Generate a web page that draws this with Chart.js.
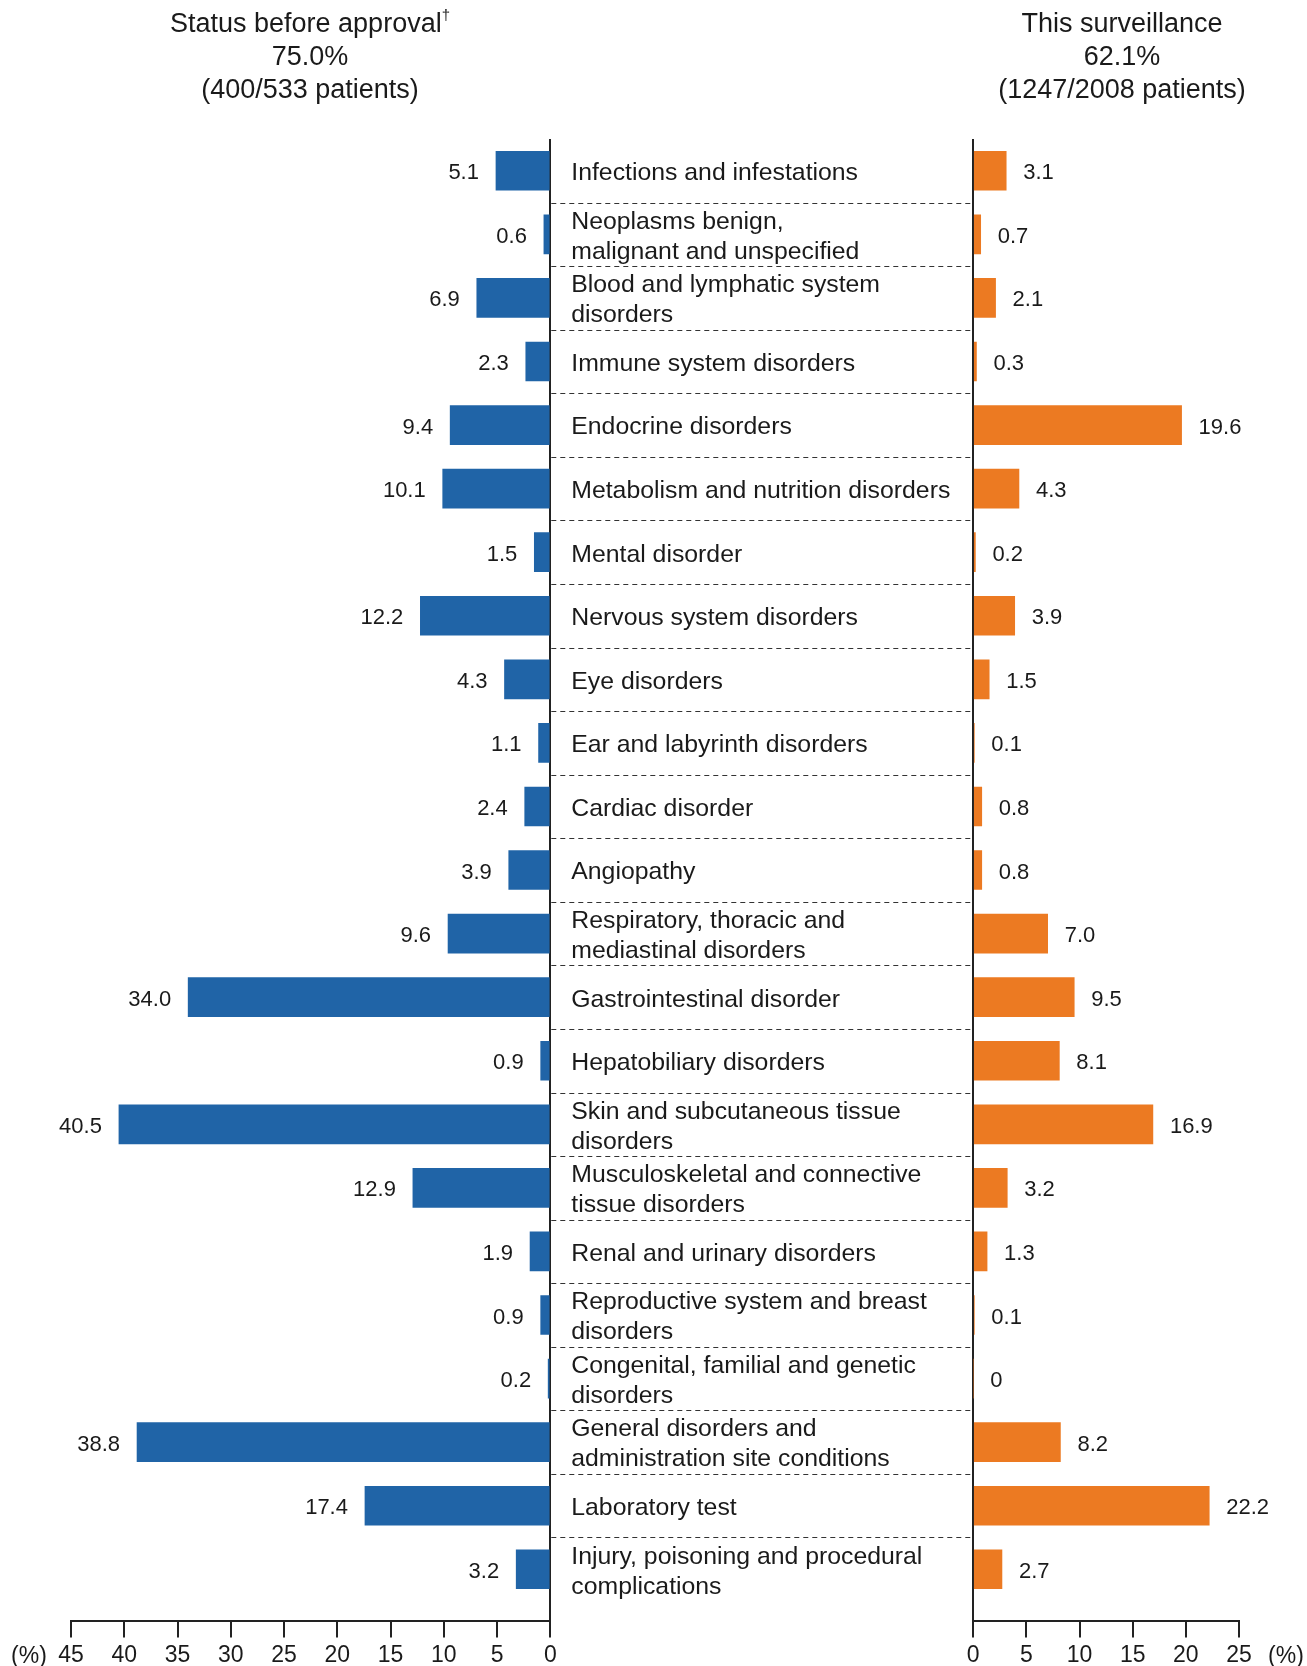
<!DOCTYPE html>
<html>
<head>
<meta charset="utf-8">
<script src="https://cdn.jsdelivr.net/npm/chart.js@4.4.1/dist/chart.umd.min.js"></script>
<style>
  body { margin: 0; background: #fff; }
  #wrap { position: relative; width: 1307px; height: 1666px; overflow: hidden; }
  .head {
    position: absolute; top: 7px; width: 400px; text-align: center;
    font-family: "Liberation Sans", Arial, sans-serif; font-size: 27px;
    line-height: 33px; color: #1a1a1a;
  }
  .head sup { font-size: 15px; line-height: 0; vertical-align: 12px; }
</style>
</head>
<body>
<div id="wrap">
  <div class="head" style="left:110px">Status before approval<sup>†</sup><br>75.0%<br>(400/533 patients)</div>
  <div class="head" style="left:922px">This surveillance<br>62.1%<br>(1247/2008 patients)</div>
  <canvas id="aeChart" width="1307" height="1674"></canvas>
</div>
<script>
// System organ classes, top to bottom
const categories = [
  "Infections and infestations",
  ["Neoplasms benign,", "malignant and unspecified"],
  ["Blood and lymphatic system", "disorders"],
  "Immune system disorders",
  "Endocrine disorders",
  "Metabolism and nutrition disorders",
  "Mental disorder",
  "Nervous system disorders",
  "Eye disorders",
  "Ear and labyrinth disorders",
  "Cardiac disorder",
  "Angiopathy",
  ["Respiratory, thoracic and", "mediastinal disorders"],
  "Gastrointestinal disorder",
  "Hepatobiliary disorders",
  ["Skin and subcutaneous tissue", "disorders"],
  ["Musculoskeletal and connective", "tissue disorders"],
  "Renal and urinary disorders",
  ["Reproductive system and breast", "disorders"],
  ["Congenital, familial and genetic", "disorders"],
  ["General disorders and", "administration site conditions"],
  "Laboratory test",
  ["Injury, poisoning and procedural", "complications"],
];
// % of patients, status before approval
const beforeApproval = [5.1, 0.6, 6.9, 2.3, 9.4, 10.1, 1.5, 12.2, 4.3, 1.1, 2.4, 3.9,
  9.6, 34.0, 0.9, 40.5, 12.9, 1.9, 0.9, 0.2, 38.8, 17.4, 3.2];
// % of patients, this surveillance
const surveillance = [3.1, 0.7, 2.1, 0.3, 19.6, 4.3, 0.2, 3.9, 1.5, 0.1, 0.8, 0.8,
  7.0, 9.5, 8.1, 16.9, 3.2, 1.3, 0.1, 0, 8.2, 22.2, 2.7];
const leftMax = 45;
const rightMax = 25;
const tickStep = 5;

const FONT = '"Liberation Sans", Arial, sans-serif';
const INK = "#1a1a1a";
const BLUE = "#2064a7";
const ORANGE = "#ec7a22";
const TICK_PAD = 4.5;
const TEXT_DY = 2.5; // canvas "middle" sits a bit high for this font

function fmt(v) {
  return v === 0 ? "0" : v.toFixed(1);
}

// category labels, separators and value labels
const labelPlugin = {
  id: "labels",
  afterDatasetsDraw(chart) {
    const { ctx } = chart;
    const xL = chart.scales.xL;
    const xM = chart.scales.xM;
    const xR = chart.scales.xR;
    const y = chart.scales.y;
    ctx.save();

    // dashed separators between rows
    ctx.strokeStyle = "#333";
    ctx.lineWidth = 1.2;
    ctx.setLineDash([5, 4]);
    for (let i = 0; i < categories.length - 1; i++) {
      const py = Math.round(y.getPixelForValue(i + 0.5)) + 0.5;
      ctx.beginPath();
      ctx.moveTo(xM.left + 1, py);
      ctx.lineTo(xM.right - 1, py);
      ctx.stroke();
    }
    ctx.setLineDash([]);

    ctx.fillStyle = INK;
    ctx.textBaseline = "middle";
    ctx.font = "24.8px " + FONT;
    ctx.textAlign = "left";
    categories.forEach((c, i) => {
      const lines = Array.isArray(c) ? c : [c];
      const cy = y.getPixelForValue(i) + TEXT_DY;
      lines.forEach((t, j) => {
        ctx.fillText(t, xM.left + 21, cy + (j - (lines.length - 1) / 2) * 30);
      });
    });

    ctx.font = "22px " + FONT;
    beforeApproval.forEach((v, i) => {
      ctx.textAlign = "right";
      ctx.fillText(fmt(v), xL.getPixelForValue(v) - 17, y.getPixelForValue(i) + TEXT_DY);
    });
    surveillance.forEach((v, i) => {
      ctx.textAlign = "left";
      ctx.fillText(fmt(v), xR.getPixelForValue(v) + 17, y.getPixelForValue(i) + TEXT_DY);
    });

    // unit labels beside the axes
    ctx.font = "23px " + FONT;
    ctx.textBaseline = "top";
    ctx.textAlign = "center";
    const ty = xL.top + 16 + TICK_PAD + 3;
    ctx.fillText("(%)", 29, ty);
    ctx.fillText("(%)", 1286, ty);
    ctx.restore();
  },
};

function axisOpts(max, reverse, weight, stackWeight) {
  return {
    type: "linear",
    position: "bottom",
    stack: "x",
    stackWeight: stackWeight,
    weight: weight,
    min: 0,
    max: max,
    reverse: reverse,
    offset: false,
    grid: {
      color: (c) => (c.tick && c.tick.value === 0 ? "#222" : "rgba(0,0,0,0)"),
      lineWidth: 2,
      tickColor: "#222",
      tickLength: 16,
      tickWidth: 2,
    },
    border: { display: true, color: "#222", width: 2 },
    ticks: {
      stepSize: tickStep,
      autoSkip: false,
      color: INK,
      padding: TICK_PAD,
      maxRotation: 0,
      font: { family: FONT, size: 23 },
    },
  };
}

const ctx = document.getElementById("aeChart").getContext("2d");
new Chart(ctx, {
  type: "bar",
  data: {
    datasets: [
      {
        label: "Status before approval",
        data: beforeApproval.map((v, i) => ({ x: v, y: i })),
        xAxisID: "xL",
        backgroundColor: BLUE,
      },
      {
        label: "This surveillance",
        data: surveillance.map((v, i) => ({ x: v, y: i })),
        xAxisID: "xR",
        backgroundColor: ORANGE,
      },
    ],
  },
  options: {
    indexAxis: "y",
    responsive: false,
    animation: false,
    layout: { padding: { left: 71, right: 68, top: 139, bottom: 0 } },
    datasets: {
      bar: {
        grouped: false,
        barThickness: 39,
        borderWidth: 0,
      },
    },
    plugins: {
      legend: { display: false },
      tooltip: { enabled: false },
    },
    scales: {
      xL: axisOpts(leftMax, true, 1, 479.2),
      xM: {
        type: "linear",
        position: "bottom",
        stack: "x",
        stackWeight: 422.9,
        weight: 2,
        min: 0,
        max: 1,
        grid: { display: false, drawTicks: false },
        border: { display: false },
        ticks: { display: false },
      },
      xR: axisOpts(rightMax, false, 3, 265.7),
      y: {
        type: "linear",
        display: false,
        reverse: true,
        offset: false,
        bounds: "data",
        grid: { offset: false },
        min: -0.5,
        max: 22.82,
        ticks: { stepSize: 1 },
      },
    },
  },
  plugins: [labelPlugin],
});
</script>
</body>
</html>
